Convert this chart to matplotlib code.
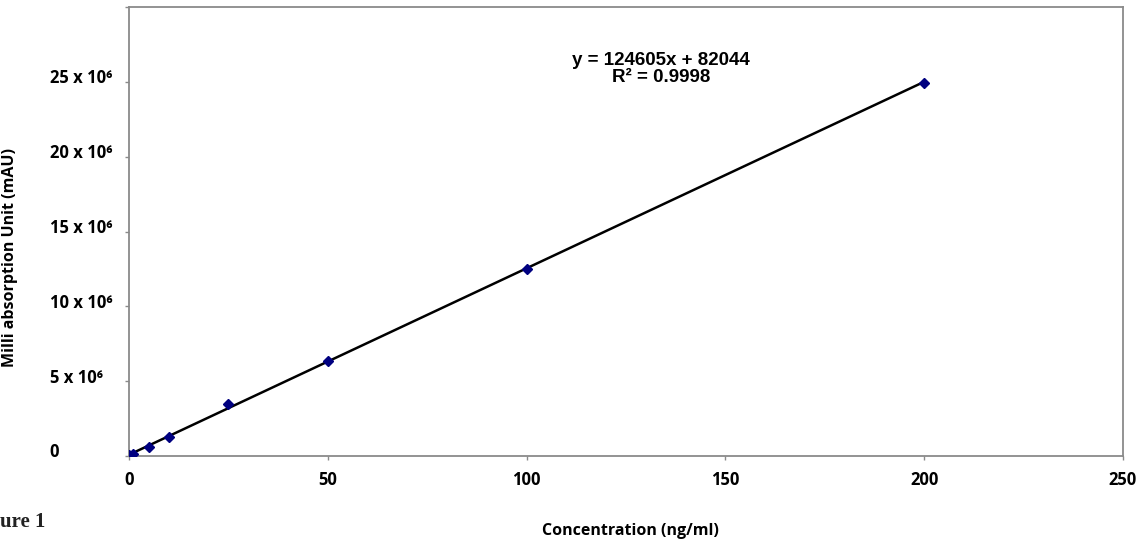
import numpy as np
import matplotlib
matplotlib.use('Agg')
import matplotlib.pyplot as plt
import matplotlib.transforms as mtransforms

# Dados da curva de calibração #
concentracao = [0, 1, 5, 10, 25, 50, 100, 200]
absorcao = [0.05e6, 0.13e6, 0.62e6, 1.28e6, 3.45e6, 6.35e6, 12.5e6, 24.95e6]
inclinacao = 124605
intercepto = 82044
r2 = 0.9998

x_ticks = [0, 50, 100, 150, 200, 250]
y_ticks = [0, 5e6, 10e6, 15e6, 20e6, 25e6, 30e6]
y_tick_labels = ['0', '5 x 10⁶', '10 x 10⁶', '15 x 10⁶', '20 x 10⁶', '25 x 10⁶', '']

plt.rcParams['font.family'] = ['Open Sans', 'DejaVu Sans']

fig = plt.figure(figsize=(11.44, 5.39), dpi=100)
ax = fig.add_axes([129/1144, 1 - 456/539, (1123 - 129)/1144, (456 - 7)/539])

# linha de tendência a partir da equação
xl = np.array([0, max(concentracao)])
ax.plot(xl, inclinacao*xl + intercepto, color='black', lw=1.8, zorder=2)
ax.plot(concentracao, absorcao, linestyle='none', marker='D', ms=5,
        color='#000080', zorder=3)

ax.set_xlim(0, 250)
ax.set_ylim(0, 30e6)
ax.set_xticks(x_ticks)
ax.set_xticklabels([str(v) for v in x_ticks], fontsize=12, fontweight='bold')
ax.set_yticks(y_ticks)
ax.set_yticklabels(y_tick_labels, fontsize=12, fontweight='bold', ha='left')

for s in ax.spines.values():
    s.set_color('#8a8a8a')
    s.set_linewidth(1.3)
ax.tick_params(axis='both', direction='out', length=3, width=1, color='#8a8a8a')
ax.tick_params(axis='x', pad=8)
ax.tick_params(axis='y', pad=54)

desloca = mtransforms.ScaledTranslation(0, 4/72, fig.dpi_scale_trans)
for lab in ax.get_yticklabels():
    lab.set_transform(lab.get_transform() + desloca)

ax.set_xlabel('Concentration (ng/ml)', fontsize=11.5, fontweight='bold')
ax.xaxis.set_label_coords(0.504, -0.149)
ax.set_ylabel('Milli absorption Unit (mAU)', fontsize=11.5, fontweight='bold')
ax.yaxis.set_label_coords(-0.1117, 0.441)

ax.text(0.535, 0.862, f'y = {inclinacao}x + {intercepto}\nR² = {r2}',
        transform=ax.transAxes, ha='center', va='center', fontsize=13.5,
        fontweight='bold', family=['Liberation Sans', 'DejaVu Sans'],
        linespacing=0.95)

fig.text(0.0, 1 - 527/539, 'ure 1', ha='left', va='baseline', fontsize=15,
         fontweight='bold', family='Liberation Serif', color='#222222')

fig.savefig('out.png', dpi=100)
